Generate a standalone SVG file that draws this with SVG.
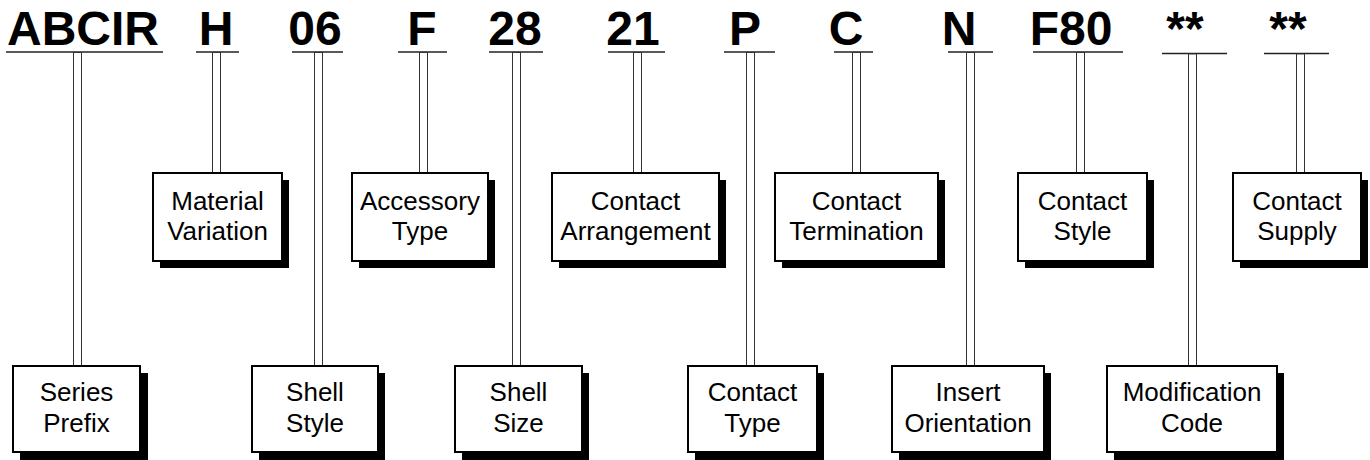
<svg xmlns="http://www.w3.org/2000/svg" width="1370" height="460" viewBox="0 0 1370 460">
<style>
.code{font-family:"Liberation Sans",Arial,sans-serif;font-weight:bold;font-size:48px;fill:#000;text-anchor:middle}
.lbl{font-family:"Liberation Sans",Arial,sans-serif;font-size:26px;fill:#000;text-anchor:middle}
.ul{stroke:#222;stroke-width:1.5;fill:none}
.conn{fill:#fff;stroke:#333;stroke-width:1}
.box{fill:#fff;stroke:#000;stroke-width:2}
.sh{fill:#000}
</style>
<rect width="1370" height="460" fill="#fff"/>
<g id="codes">
<text class="code" x="83" y="45">ABCIR</text>
<text class="code" x="216" y="45">H</text>
<text class="code" x="315" y="45">06</text>
<text class="code" x="422" y="45">F</text>
<text class="code" x="515" y="45">28</text>
<text class="code" x="633" y="45">21</text>
<text class="code" x="745" y="45">P</text>
<text class="code" x="846" y="45">C</text>
<text class="code" x="959" y="45">N</text>
<text class="code" x="1071" y="45">F80</text>
<text class="code" x="1185" y="45">**</text>
<text class="code" x="1288" y="45">**</text>
</g>
<g id="connectors">
<line class="ul" x1="6" y1="52" x2="163" y2="52"/>
<line class="ul" x1="196" y1="52" x2="239" y2="52"/>
<line class="ul" x1="292" y1="52" x2="343" y2="52"/>
<line class="ul" x1="398" y1="52" x2="447" y2="52"/>
<line class="ul" x1="489" y1="52" x2="543" y2="52"/>
<line class="ul" x1="608" y1="52" x2="665" y2="52"/>
<line class="ul" x1="724" y1="52" x2="775" y2="52"/>
<line class="ul" x1="834" y1="52" x2="873" y2="52"/>
<line class="ul" x1="948" y1="52" x2="993" y2="52"/>
<line class="ul" x1="1033" y1="52" x2="1123" y2="52"/>
<line class="ul" x1="1162" y1="53.5" x2="1227" y2="53.5"/>
<line class="ul" x1="1264" y1="53.5" x2="1329" y2="53.5"/>
<rect class="conn" x="73.5" y="52.5" width="8" height="313"/>
<rect class="conn" x="212.5" y="52.5" width="8" height="121"/>
<rect class="conn" x="314.5" y="52.5" width="8" height="313"/>
<rect class="conn" x="419.5" y="52.5" width="8" height="121"/>
<rect class="conn" x="512.5" y="52.5" width="8" height="313"/>
<rect class="conn" x="633.5" y="52.5" width="8" height="121"/>
<rect class="conn" x="746.5" y="52.5" width="8" height="313"/>
<rect class="conn" x="852.5" y="52.5" width="8" height="121"/>
<rect class="conn" x="966.5" y="52.5" width="8" height="313"/>
<rect class="conn" x="1076.5" y="52.5" width="8" height="121"/>
<rect class="conn" x="1188.5" y="54" width="8" height="311.5"/>
<rect class="conn" x="1296.5" y="54" width="8" height="119.5"/>
</g>
<g id="series-prefix">
<rect class="sh" x="20" y="373" width="128" height="87"/>
<rect class="box" x="13" y="366" width="127" height="86"/>
<text class="lbl" x="76.5" y="401">Series</text>
<text class="lbl" x="76.5" y="432">Prefix</text>
</g>
<g id="material-variation">
<rect class="sh" x="160" y="180" width="129" height="88"/>
<rect class="box" x="153" y="173" width="129" height="88"/>
<text class="lbl" x="217.5" y="210">Material</text>
<text class="lbl" x="217.5" y="240">Variation</text>
</g>
<g id="shell-style">
<rect class="sh" x="259" y="373" width="126" height="87"/>
<rect class="box" x="252" y="366" width="126" height="86"/>
<text class="lbl" x="315" y="401">Shell</text>
<text class="lbl" x="315" y="432">Style</text>
</g>
<g id="accessory-type">
<rect class="sh" x="359" y="180" width="136" height="88"/>
<rect class="box" x="352" y="173" width="136" height="88"/>
<text class="lbl" x="420" y="210">Accessory</text>
<text class="lbl" x="420" y="240">Type</text>
</g>
<g id="shell-size">
<rect class="sh" x="462" y="373" width="127" height="87"/>
<rect class="box" x="455" y="366" width="127" height="86"/>
<text class="lbl" x="518.5" y="401">Shell</text>
<text class="lbl" x="518.5" y="432">Size</text>
</g>
<g id="contact-arrangement">
<rect class="sh" x="559" y="180" width="167" height="88"/>
<rect class="box" x="552" y="173" width="167" height="88"/>
<text class="lbl" x="635.5" y="210">Contact</text>
<text class="lbl" x="635.5" y="240">Arrangement</text>
</g>
<g id="contact-type">
<rect class="sh" x="695" y="373" width="129" height="87"/>
<rect class="box" x="688" y="366" width="129" height="86"/>
<text class="lbl" x="752.5" y="401">Contact</text>
<text class="lbl" x="752.5" y="432">Type</text>
</g>
<g id="contact-termination">
<rect class="sh" x="782" y="180" width="163" height="88"/>
<rect class="box" x="775" y="173" width="163" height="88"/>
<text class="lbl" x="856.5" y="210">Contact</text>
<text class="lbl" x="856.5" y="240">Termination</text>
</g>
<g id="insert-orientation">
<rect class="sh" x="899" y="373" width="152" height="87"/>
<rect class="box" x="892" y="366" width="152" height="86"/>
<text class="lbl" x="968" y="401">Insert</text>
<text class="lbl" x="968" y="432">Orientation</text>
</g>
<g id="contact-style">
<rect class="sh" x="1025" y="180" width="129" height="88"/>
<rect class="box" x="1018" y="173" width="129" height="88"/>
<text class="lbl" x="1082.5" y="210">Contact</text>
<text class="lbl" x="1082.5" y="240">Style</text>
</g>
<g id="modification-code">
<rect class="sh" x="1114" y="373" width="170" height="87"/>
<rect class="box" x="1107" y="366" width="170" height="86"/>
<text class="lbl" x="1192" y="401">Modification</text>
<text class="lbl" x="1192" y="432">Code</text>
</g>
<g id="contact-supply">
<rect class="sh" x="1240" y="180" width="128" height="88"/>
<rect class="box" x="1233" y="173" width="128" height="88"/>
<text class="lbl" x="1297" y="210">Contact</text>
<text class="lbl" x="1297" y="240">Supply</text>
</g>
</svg>
